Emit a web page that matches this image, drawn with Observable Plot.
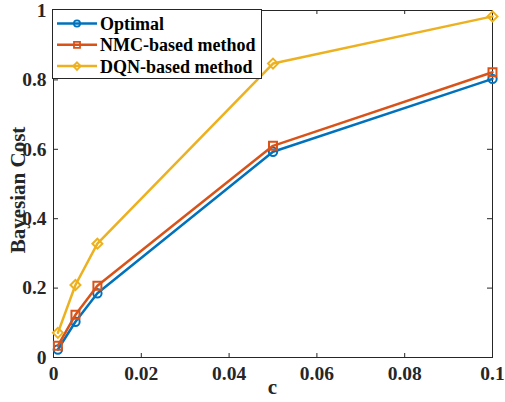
<!DOCTYPE html>
<html><head><meta charset="utf-8">
<script src="https://cdn.jsdelivr.net/npm/d3@7"></script>
<script src="https://cdn.jsdelivr.net/npm/@observablehq/plot@0.6"></script>
<style>
html,body{margin:0;padding:0;background:#fff;}
#wrap{position:relative;width:505px;height:402px;font-family:'Liberation Serif','Times New Roman',serif;}
#wrap svg text{font-family:'Liberation Serif','Times New Roman',serif !important;}
#legend{position:absolute;left:52px;top:9px;width:210px;height:70px;background:#fff;border:1px solid #262626;box-sizing:border-box;}
</style></head>
<body><div id="wrap"><div id="legend"></div></div>
<script>
const cValues = [0.001, 0.005, 0.01, 0.05, 0.1];
const optimal = [0.023, 0.103, 0.185, 0.593, 0.803];
const nmc = [0.034, 0.123, 0.207, 0.610, 0.822];
const dqn = [0.071, 0.209, 0.328, 0.847, 0.983];
const seriesNames = ["Optimal", "NMC-based method", "DQN-based method"];
const seriesColors = ["#0072BD", "#D95319", "#EDB120"];
const seriesSymbols = ["circle", "square", "diamond2"];
const xTicks = [0, 0.02, 0.04, 0.06, 0.08, 0.1];
const yTicks = [0, 0.2, 0.4, 0.6, 0.8, 1];

const seriesValues = [optimal, nmc, dqn];
const data = seriesValues.flatMap((vals, i) => vals.map((v, j) => ({series: seriesNames[i], c: cValues[j], cost: v})));

const font = "'Liberation Serif', 'Times New Roman', serif";
const marks = [];
marks.push(Plot.frame({stroke: "#262626", strokeWidth: 1}));
marks.push(Plot.ruleX(xTicks, {x: d => d, insetTop: 343, stroke: "#262626"}));
marks.push(Plot.ruleX(xTicks, {x: d => d, insetBottom: 343, stroke: "#262626"}));
marks.push(Plot.ruleY(yTicks, {y: d => d, insetRight: 434, stroke: "#262626"}));
marks.push(Plot.ruleY(yTicks, {y: d => d, insetLeft: 434, stroke: "#262626"}));
seriesNames.forEach((name, i) => {
  const d = data.filter(r => r.series === name);
  marks.push(Plot.line(d, {x: "c", y: "cost", stroke: seriesColors[i], strokeWidth: 2.5}));
  marks.push(Plot.dot(d, {x: "c", y: "cost", stroke: seriesColors[i], fill: "none", strokeWidth: 2, symbol: seriesSymbols[i], r: i === 0 ? 4.2 : 4.5}));
});
marks.push(Plot.axisX(xTicks, {tickSize: 0, tickPadding: 9, fontSize: 19.5, fontWeight: "bold", fill: "#262626", label: null, tickFormat: d => String(d)}));
marks.push(Plot.axisY(yTicks, {tickSize: 0, tickPadding: 7, fontSize: 19.5, fontWeight: "bold", fill: "#262626", label: null, tickFormat: d => String(d)}));

const chart = Plot.plot({
  width: 505, height: 402,
  marginLeft: 53, marginRight: 13, marginTop: 10, marginBottom: 45,
  style: {fontFamily: font, background: "#fff", overflow: "visible"},
  x: {domain: [0, 0.1]},
  y: {domain: [0, 1]},
  marks
});
const wrap = document.getElementById("wrap");
wrap.insertBefore(chart, wrap.firstChild);

// axis labels
const svg = d3.select(chart);
svg.append("text").attr("x", 272.5).attr("y", 394).attr("text-anchor", "middle")
  .style("font-family", font).attr("font-weight", "bold").attr("font-size", 21).attr("fill", "#262626").text("c");
svg.append("text").attr("transform", "translate(25,190) rotate(-90)").attr("text-anchor", "middle")
  .style("font-family", font).attr("font-weight", "bold").attr("font-size", 21).attr("fill", "#262626").text("Bayesian Cost");

// legend
const leg = d3.select("#legend").append("svg").attr("width", 208).attr("height", 68);
const symbolMap = {circle: d3.symbolCircle, square: d3.symbolSquare, diamond2: d3.symbolDiamond2};
seriesNames.forEach((name, i) => {
  const cy = 13.5 + i * 21.3;
  leg.append("line").attr("x1", 4).attr("x2", 44).attr("y1", cy).attr("y2", cy)
    .attr("stroke", seriesColors[i]).attr("stroke-width", 2.5);
  leg.append("path").attr("transform", `translate(24,${cy})`)
    .attr("d", d3.symbol(symbolMap[seriesSymbols[i]], i === 0 ? 30 : 36)())
    .attr("fill", "none").attr("stroke", seriesColors[i]).attr("stroke-width", 1.8);
  leg.append("text").attr("x", 47).attr("y", cy + 6.5)
    .style("font-family", font).attr("font-weight", "bold").attr("font-size", 18).attr("fill", "#000").text(name);
});
</script></body></html>
